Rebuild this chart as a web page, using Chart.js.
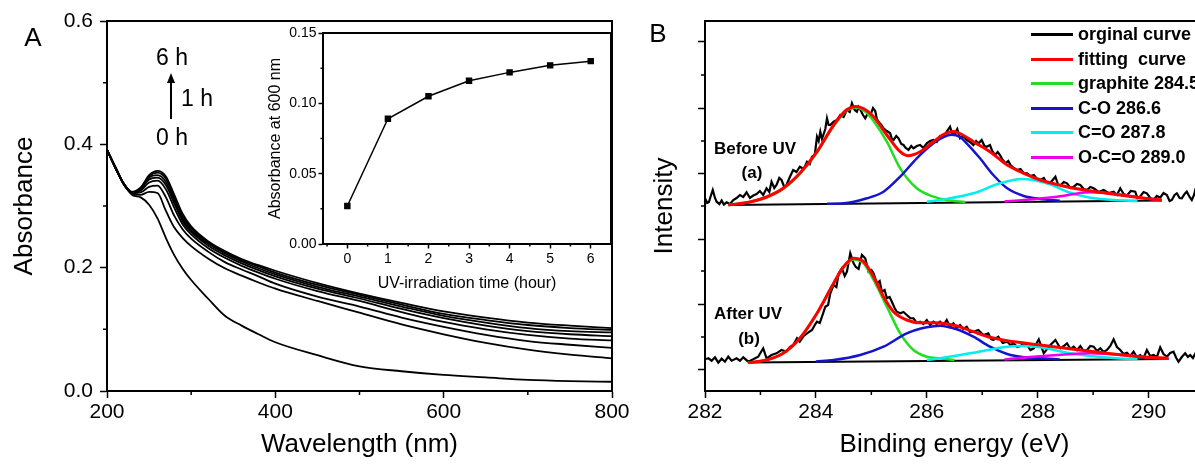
<!DOCTYPE html>
<html>
<head>
<meta charset="utf-8">
<script src="https://cdn.jsdelivr.net/npm/chart.js@4.4.1/dist/chart.umd.min.js"></script>
<style>
html, body { margin: 0; padding: 0; background: #fff; }
body { width: 1195px; height: 469px; overflow: hidden; position: relative; font-family: 'Liberation Sans', Arial, sans-serif; color: #000; }
canvas { position: absolute; }
.txt { position: absolute; transform: translate(-50%, -50%); white-space: pre; line-height: 1; }
.bold { font-weight: bold; font-size: 17px; }
.leg { position: absolute; left: 1031px; height: 24px; white-space: pre; font-weight: bold; font-size: 18px; }
.leg span.ln { position: absolute; left: 0; top: 10px; width: 42px; height: 3px; }
.leg span.tx { position: absolute; left: 47px; top: 1px; }
</style>
</head>
<body>
<canvas id="chartA" width="640" height="469" style="left:0;top:0"></canvas>
<canvas id="inset" width="360" height="280" style="left:260px;top:20px"></canvas>
<canvas id="chartB" width="600" height="469" style="left:640px;top:0"></canvas>

<div class="txt" style="left:33px;top:37px;font-size:26px">A</div>
<div class="txt" style="left:658px;top:33px;font-size:26px">B</div>
<div class="txt" style="left:172px;top:57px;font-size:23px">6 h</div>
<div class="txt" style="left:197px;top:98px;font-size:23px">1 h</div>
<div class="txt" style="left:172px;top:137px;font-size:23px">0 h</div>
<div style="position:absolute;left:170px;top:82px;width:2px;height:37px;background:#000"></div>
<div style="position:absolute;left:167px;top:73px;width:0;height:0;border-left:4px solid transparent;border-right:4px solid transparent;border-bottom:10px solid #000"></div>
<div class="txt bold" style="left:755px;top:148px">Before UV</div>
<div class="txt bold" style="left:752px;top:172px">(a)</div>
<div class="txt bold" style="left:748px;top:313px">After UV</div>
<div class="txt bold" style="left:749px;top:338px">(b)</div>
<div id="legendB"></div>

<script>
// ---- panel A : absorbance spectra ----
const wavelength = [200, 210, 220, 230, 240, 250, 260, 270, 280, 290, 300, 320, 340, 360, 380, 400, 450, 500, 550, 600, 650, 700, 750, 800];
const spec0 = [.391, .364, .336, .318, .314, .302, .280, .248, .220, .198, .180, .150, .122, .106, .092, .079, .058, .040, .032, .026, .022, .018, .016, .015];
const spec1 = [.391, .362, .335, .320, .318, .323, .321, .292, .265, .248, .235, .215, .199, .187, .176, .166, .146, .127, .108, .092, .078, .067, .059, .053];
const spec2 = [.391, .362, .335, .321, .322, .331, .333, .314, .284, .262, .247, .226, .209, .197, .186, .174, .153, .137, .119, .104, .091, .081, .075, .070];
const spec3 = [.391, .362, .335, .321, .325, .338, .341, .327, .297, .270, .254, .232, .216, .203, .192, .182, .162, .146, .128, .112, .100, .091, .085, .082];
const spec4 = [.391, .362, .336, .322, .327, .343, .346, .334, .304, .275, .258, .236, .220, .207, .196, .186, .166, .150, .133, .118, .106, .097, .092, .089];
const spec5 = [.391, .362, .336, .322, .328, .346, .350, .339, .309, .279, .261, .239, .223, .210, .199, .189, .169, .153, .137, .122, .111, .102, .097, .095];
const spec6 = [.391, .362, .336, .322, .329, .348, .354, .344, .314, .283, .264, .241, .225, .212, .202, .192, .172, .156, .140, .125, .115, .107, .102, .099];
const spec7 = [.391, .362, .336, .323, .330, .350, .357, .348, .318, .287, .267, .243, .227, .214, .204, .195, .175, .158, .143, .129, .119, .111, .106, .102];
const specNames = ['0 h', 'scan 2', 'scan 3', 'scan 4', 'scan 5', 'scan 6', 'scan 7', '6 h'];
const aXMinor = [300, 500, 700];
const aYMinor = [0.1, 0.3, 0.5];

// ---- inset : absorbance at 600 nm ----
const hours = [0, 1, 2, 3, 4, 5, 6];
const abs600 = [0.027, 0.089, 0.105, 0.116, 0.122, 0.127, 0.130];
const insetXMinor = [-0.5, 0.5, 1.5, 2.5, 3.5, 4.5, 5.5];
const insetYMinor = [0.025, 0.075, 0.125];

// ---- panel B : C1s XPS, [binding energy, intensity] ----
const rawBefore = [[282.00,192.7],[282.04,188],[282.07,189],[282.11,196],[282.14,201],[282.18,193],[282.21,189.3],[282.26,187],[282.30,190.5],[282.34,186.5],[282.39,188.7],[282.45,187],[282.51,191],[282.57,193],[282.63,196],[282.69,194],[282.75,198.7],[282.81,193],[282.87,195.5],[282.93,197],[282.99,200],[283.05,196],[283.11,202.7],[283.16,199],[283.20,209.3],[283.25,203],[283.29,206],[283.34,213],[283.38,211],[283.43,204],[283.47,206],[283.53,214],[283.59,221],[283.65,219],[283.71,224.3],[283.78,222],[283.84,229.3],[283.89,227],[283.93,234.3],[283.98,236],[284.02,254.3],[284.05,250],[284.08,259.3],[284.11,252],[284.14,257],[284.17,262],[284.20,272.7],[284.23,266],[284.26,266],[284.32,269.3],[284.38,271],[284.44,276],[284.50,274],[284.56,281],[284.61,279],[284.65,287.7],[284.70,281],[284.74,279.3],[284.77,284],[284.80,281.5],[284.85,276],[284.89,272.7],[284.94,278],[284.98,275],[285.03,283],[285.07,280],[285.10,272],[285.13,269.3],[285.18,266],[285.22,262.7],[285.28,260],[285.34,257.7],[285.37,252],[285.40,251],[285.45,255],[285.49,252.7],[285.54,247],[285.58,246],[285.62,243],[285.67,241],[285.72,245],[285.76,242.7],[285.82,245],[285.88,246],[285.94,243],[286.00,247.7],[286.06,250],[286.12,251],[286.18,249],[286.24,255],[286.30,254],[286.36,259.3],[286.42,264.3],[286.46,257],[286.51,258],[286.55,262],[286.60,252.7],[286.66,255],[286.72,251],[286.78,249],[286.84,246],[286.89,250],[286.93,247.5],[286.99,251],[287.04,245],[287.08,244.3],[287.14,246],[287.18,240],[287.23,236],[287.28,239],[287.32,236],[287.37,231],[287.42,227.7],[287.47,230],[287.51,226],[287.57,223],[287.63,221],[287.69,222],[287.75,218],[287.81,217.7],[287.87,215],[287.93,216],[287.99,212],[288.05,211],[288.11,213],[288.17,207.7],[288.24,209],[288.32,214.3],[288.37,206],[288.42,206],[288.47,209],[288.53,207.7],[288.59,203],[288.65,204.3],[288.71,207],[288.77,206],[288.83,202],[288.89,201],[288.95,204],[289.01,202.7],[289.10,199],[289.19,201],[289.28,198],[289.37,199.3],[289.43,196],[289.49,202.7],[289.55,197],[289.61,195.5],[289.68,200],[289.76,199.3],[289.80,193],[289.85,194.5],[289.91,199],[289.97,197.7],[290.03,193],[290.09,191],[290.15,195],[290.21,193.3],[290.27,198],[290.33,196],[290.38,190],[290.42,191],[290.47,196],[290.51,197.7],[290.56,193],[290.60,192.7],[290.65,197],[290.69,199.3],[290.74,194],[290.78,191],[290.82,196],[290.85,202.7]];
const fitBefore = [[282.42,186],[282.81,189],[283.11,194],[283.41,202.7],[283.71,217.7],[284.02,239.3],[284.32,266],[284.55,281],[284.72,284.5],[284.90,281],[285.04,274.3],[285.28,256],[285.52,239.3],[285.66,235.3],[285.88,239.3],[286.12,249.3],[286.30,256.5],[286.48,259.5],[286.65,256],[286.84,249.3],[287.14,239.3],[287.45,226],[287.75,217.7],[288.05,211],[288.35,206.5],[288.65,202.7],[289.25,197.7],[289.85,193.3],[290.24,191]];
const graphiteBefore = [[282.42,186],[282.81,189],[283.11,193.5],[283.41,202],[283.71,217],[284.02,238.5],[284.32,265],[284.55,280],[284.72,283.5],[284.90,279],[285.04,270],[285.28,249.3],[285.52,222.7],[285.82,202.7],[286.12,194.3],[286.36,191],[286.70,188.8]];
const coBefore = [[284.20,187.3],[284.50,187.7],[284.92,192.7],[285.22,199.3],[285.52,214.3],[285.82,232.7],[286.12,247.7],[286.30,254],[286.45,256.3],[286.60,254],[286.72,247.7],[286.96,232.7],[287.20,216],[287.45,202.7],[287.75,195],[288.05,192],[288.40,190.2]];
const c_oBefore = [[286.00,189],[286.24,191],[286.84,197.7],[287.32,207.7],[287.71,212],[288.17,207.7],[288.53,199.3],[288.95,193.3],[289.37,191],[289.80,190]];
const ocoBefore = [[287.40,189.5],[287.75,191],[288.35,194.3],[288.95,198.7],[289.55,196],[290.15,191],[290.24,190.8]];
const baseBefore = [[282.42,186],[290.24,190.5]];

const rawAfter = [[282.00,31.7],[282.06,32.7],[282.12,30.3],[282.18,33.7],[282.24,28.3],[282.30,32.3],[282.36,29.3],[282.42,34.3],[282.48,30.3],[282.57,32.7],[282.63,30.3],[282.69,33.7],[282.78,29.3],[282.87,31.7],[282.96,34.3],[283.05,42.7],[283.11,32.7],[283.20,36],[283.29,37.7],[283.38,41],[283.47,39.3],[283.53,44],[283.59,46],[283.66,52.7],[283.71,49.3],[283.78,55],[283.84,57.7],[283.93,61],[283.98,66],[284.02,69.3],[284.07,68],[284.11,74.3],[284.17,84.3],[284.22,86],[284.26,97.7],[284.32,106],[284.37,104],[284.41,117.7],[284.47,122.7],[284.52,115],[284.56,119.3],[284.62,137.7],[284.68,127.7],[284.72,124],[284.77,122],[284.83,136],[284.89,132.7],[284.95,119.3],[285.00,121],[285.04,117.7],[285.10,107.7],[285.15,110],[285.19,99.3],[285.24,101],[285.28,92.7],[285.33,94],[285.37,89.3],[285.42,83],[285.46,79.3],[285.52,77.7],[285.58,79],[285.64,76],[285.70,73],[285.76,72.7],[285.82,68],[285.88,69.3],[285.94,67],[286.00,71],[286.06,66],[286.12,69.3],[286.18,67],[286.24,69.3],[286.30,66],[286.36,71],[286.42,64],[286.48,67.7],[286.54,63],[286.60,66],[286.66,62],[286.72,64.3],[286.78,59],[286.84,59.3],[286.93,61],[287.02,56],[287.11,57.7],[287.16,52],[287.20,51],[287.29,54.3],[287.37,48],[287.45,49.3],[287.51,46],[287.57,47.7],[287.63,44],[287.69,45],[287.75,48],[287.81,46],[287.87,41],[287.93,42.7],[288.02,51.7],[288.11,37.7],[288.17,42],[288.23,46],[288.32,51],[288.41,42.7],[288.47,45],[288.53,47.7],[288.59,42],[288.65,44.3],[288.71,41],[288.77,45],[288.83,40],[288.89,41],[288.95,45],[289.01,44.3],[289.07,40],[289.13,42.7],[289.19,39],[289.25,41],[289.31,45],[289.37,51.7],[289.43,44],[289.49,41],[289.55,37],[289.61,38.3],[289.67,35],[289.73,39.3],[289.79,34],[289.85,36],[289.91,33],[289.97,41],[290.03,35],[290.09,36],[290.15,34],[290.21,43.7],[290.27,37],[290.33,34.3],[290.39,38],[290.45,39.3],[290.50,33],[290.54,29.3],[290.60,34],[290.66,37.7],[290.71,34],[290.75,36],[290.80,33],[290.85,38.3]];
const fitAfter = [[282.78,28.3],[283.11,31],[283.41,37.7],[283.71,52.7],[284.02,77.7],[284.32,107.7],[284.50,124.3],[284.68,132.7],[284.86,129.3],[285.04,114.3],[285.22,94.3],[285.40,79.3],[285.64,71],[285.88,68.3],[286.12,68.3],[286.24,68],[286.54,65],[286.84,59.3],[287.14,53.7],[287.45,50.3],[288.05,46],[288.65,41.7],[289.25,37.7],[289.85,34.3],[290.36,32.7]];
const graphiteAfter = [[282.78,28.3],[283.11,31],[283.41,37.5],[283.71,52.5],[284.02,77.5],[284.32,107.5],[284.50,123.5],[284.68,131.5],[284.86,127.5],[285.04,111],[285.28,84.3],[285.52,57.7],[285.76,41],[286.00,34.3],[286.24,32.7],[286.50,31]];
const coAfter = [[284.00,29.6],[284.32,31],[284.80,36],[285.22,44.3],[285.64,57.7],[286.00,63.7],[286.24,65.3],[286.54,61.7],[286.84,54.3],[287.14,44.3],[287.45,37],[287.75,33.7],[288.05,32.7],[288.40,31.5]];
const c_oAfter = [[286.00,31],[286.24,32.7],[286.84,38.3],[287.45,44.3],[287.69,45],[288.05,43.7],[288.53,38.3],[288.95,35],[289.43,32.7],[289.80,32]];
const ocoAfter = [[287.40,31.5],[287.75,33.5],[288.35,36],[288.95,37.7],[289.55,36],[290.15,32.7],[290.36,32.3]];
const baseAfter = [[282.78,28.5],[290.36,32]];

const bNames = ['orginal curve', 'fitting  curve', 'graphite 284.5', 'C-O 286.6', 'C=O 287.8', 'O-C=O 289.0'];
const bColors = ['#000000', '#ff0000', '#22dd22', '#1414cc', '#00eeee', '#ee00ee'];
const bYMajor = [22, 87, 152, 218, 283, 349];
const bYMinor = [54, 120, 185, 250, 316];
const bXMinor = [283, 285, 287, 289];

Chart.defaults.font.family = "'Liberation Sans', Arial, sans-serif";
Chart.defaults.color = '#000';
Chart.defaults.animation = false;

// frame round the plot area + minor ticks
const framePlugin = {
  id: 'frame',
  afterDraw(chart, args, opts) {
    const { ctx, chartArea: a, scales } = chart;
    ctx.save();
    ctx.strokeStyle = '#000';
    ctx.lineWidth = 2;
    ctx.strokeRect(a.left, a.top, a.right - a.left, a.bottom - a.top);
    ctx.lineWidth = 1.5;
    ctx.beginPath();
    (opts.minorX || []).forEach(v => {
      const px = scales.x.getPixelForValue(v);
      ctx.moveTo(px, a.bottom);
      ctx.lineTo(px, a.bottom + opts.len);
    });
    (opts.minorY || []).forEach(v => {
      const py = scales.y.getPixelForValue(v);
      ctx.moveTo(a.left, py);
      ctx.lineTo(a.left - opts.len, py);
    });
    ctx.stroke();
    ctx.restore();
  }
};

function axisGrid(len) {
  return { display: true, drawOnChartArea: false, drawTicks: true, tickLength: len, tickWidth: 1.5, tickColor: '#000' };
}
const axisBorder = { display: true, color: '#000', width: 2 };

function pts(xs, ys) {
  return xs.map((x, i) => ({ x: x, y: ys[i] }));
}
function pairPts(arr) {
  return arr.map(p => ({ x: p[0], y: p[1] }));
}

// panel A
const specs = [spec0, spec1, spec2, spec3, spec4, spec5, spec6, spec7];
new Chart(document.getElementById('chartA'), {
  type: 'scatter',
  data: {
    datasets: specs.map((s, i) => ({
      label: specNames[i],
      data: pts(wavelength, s),
      showLine: true,
      borderColor: '#000',
      borderWidth: 1.8,
      pointRadius: 0,
      cubicInterpolationMode: 'monotone'
    }))
  },
  options: {
    responsive: false,
    layout: { padding: { top: 21, right: 28, left: 0, bottom: 0 } },
    plugins: { legend: { display: false }, tooltip: { enabled: false }, frame: { minorX: aXMinor, minorY: aYMinor, len: 4 } },
    scales: {
      x: {
        type: 'linear', min: 200, max: 800,
        ticks: { stepSize: 200, font: { size: 21 }, padding: 2, color: '#000' },
        grid: axisGrid(7), border: axisBorder,
        title: { display: true, text: 'Wavelength (nm)', font: { size: 26 }, padding: { top: 0, bottom: 9 } },
        afterFit: s => { s.height = 78; }
      },
      y: {
        min: 0, max: 0.6,
        ticks: { stepSize: 0.2, font: { size: 21 }, padding: 7, color: '#000', callback: v => v.toFixed(1) },
        grid: axisGrid(7), border: axisBorder,
        title: { display: true, text: 'Absorbance', font: { size: 26 }, padding: { top: 9, bottom: 0 } },
        afterFit: s => { s.width = 107; }
      }
    }
  },
  plugins: [framePlugin]
});

// inset
new Chart(document.getElementById('inset'), {
  type: 'scatter',
  data: {
    datasets: [{
      label: 'Absorbance at 600 nm',
      data: pts(hours, abs600),
      showLine: true,
      borderColor: '#000',
      borderWidth: 1.5,
      pointStyle: 'rect',
      pointRadius: 3.5,
      pointBackgroundColor: '#000',
      pointBorderColor: '#000'
    }]
  },
  options: {
    responsive: false,
    layout: { padding: { top: 13, right: 9, left: 0, bottom: 0 } },
    plugins: { legend: { display: false }, tooltip: { enabled: false }, frame: { minorX: insetXMinor, minorY: insetYMinor, len: 2.5 } },
    scales: {
      x: {
        type: 'linear', min: -0.6, max: 6.5,
        ticks: { stepSize: 1, includeBounds: false, font: { size: 14 }, padding: 2, color: '#000' },
        grid: axisGrid(4.5), border: { display: true, color: '#000', width: 1.5 },
        title: { display: true, text: 'UV-irradiation time (hour)', font: { size: 16 }, padding: { top: 0, bottom: 7 } },
        afterFit: s => { s.height = 56; }
      },
      y: {
        min: 0, max: 0.15,
        ticks: { stepSize: 0.05, font: { size: 14 }, padding: 2, color: '#000', callback: v => v.toFixed(2) },
        grid: axisGrid(4.5), border: { display: true, color: '#000', width: 1.5 },
        title: { display: true, text: 'Absorbance at 600 nm', font: { size: 16 }, padding: { top: 6, bottom: 0 } },
        afterFit: s => { s.width = 63; }
      }
    }
  },
  plugins: [framePlugin]
});

// panel B
function bLine(label, arr, color, width, smooth) {
  return {
    label: label,
    data: pairPts(arr),
    showLine: true,
    borderColor: color,
    borderWidth: width,
    pointRadius: 0,
    cubicInterpolationMode: smooth ? 'monotone' : 'default',
    tension: 0
  };
}
new Chart(document.getElementById('chartB'), {
  type: 'scatter',
  data: {
    datasets: [
      bLine(bNames[1] + ' (a)', fitBefore, bColors[1], 3, true),
      bLine(bNames[1] + ' (b)', fitAfter, bColors[1], 3, true),
      bLine(bNames[5] + ' (a)', ocoBefore, bColors[5], 2.5, true),
      bLine(bNames[5] + ' (b)', ocoAfter, bColors[5], 2.5, true),
      bLine(bNames[4] + ' (a)', c_oBefore, bColors[4], 2.5, true),
      bLine(bNames[4] + ' (b)', c_oAfter, bColors[4], 2.5, true),
      bLine(bNames[3] + ' (a)', coBefore, bColors[3], 2.5, true),
      bLine(bNames[3] + ' (b)', coAfter, bColors[3], 2.5, true),
      bLine(bNames[2] + ' (a)', graphiteBefore, bColors[2], 2.5, true),
      bLine(bNames[2] + ' (b)', graphiteAfter, bColors[2], 2.5, true),
      bLine('baseline (a)', baseBefore, '#000', 2, false),
      bLine('baseline (b)', baseAfter, '#000', 2, false),
      bLine(bNames[0] + ' (a)', rawBefore, bColors[0], 2.2, false),
      bLine(bNames[0] + ' (b)', rawAfter, bColors[0], 2.2, false)
    ]
  },
  options: {
    responsive: false,
    layout: { padding: { top: 21, right: 36, left: 0, bottom: 0 } },
    plugins: { legend: { display: false }, tooltip: { enabled: false }, frame: { minorX: bXMinor, minorY: bYMinor, len: 4 } },
    scales: {
      x: {
        type: 'linear', min: 282, max: 291,
        ticks: { stepSize: 2, includeBounds: false, font: { size: 21 }, padding: 2, color: '#000' },
        grid: axisGrid(7), border: axisBorder,
        title: { display: true, text: 'Binding energy (eV)', font: { size: 26 }, padding: { top: 0, bottom: 9 } },
        afterFit: s => { s.height = 78; }
      },
      y: {
        min: 0, max: 370,
        afterBuildTicks: s => { s.ticks = bYMajor.map(v => ({ value: v })); },
        ticks: { display: false },
        grid: axisGrid(7), border: axisBorder,
        title: { display: true, text: 'Intensity', font: { size: 26 }, padding: { top: 9, bottom: 0 } },
        afterFit: s => { s.width = 65; }
      }
    }
  },
  plugins: [framePlugin]
});

// legend of panel B
const legendBox = document.getElementById('legendB');
bNames.forEach((name, i) => {
  const row = document.createElement('div');
  row.className = 'leg';
  row.style.top = (23 + i * 24.5) + 'px';
  row.innerHTML = '<span class="ln" style="background:' + bColors[i] + '"></span><span class="tx">' + name + '</span>';
  legendBox.appendChild(row);
});
</script>
</body>
</html>
